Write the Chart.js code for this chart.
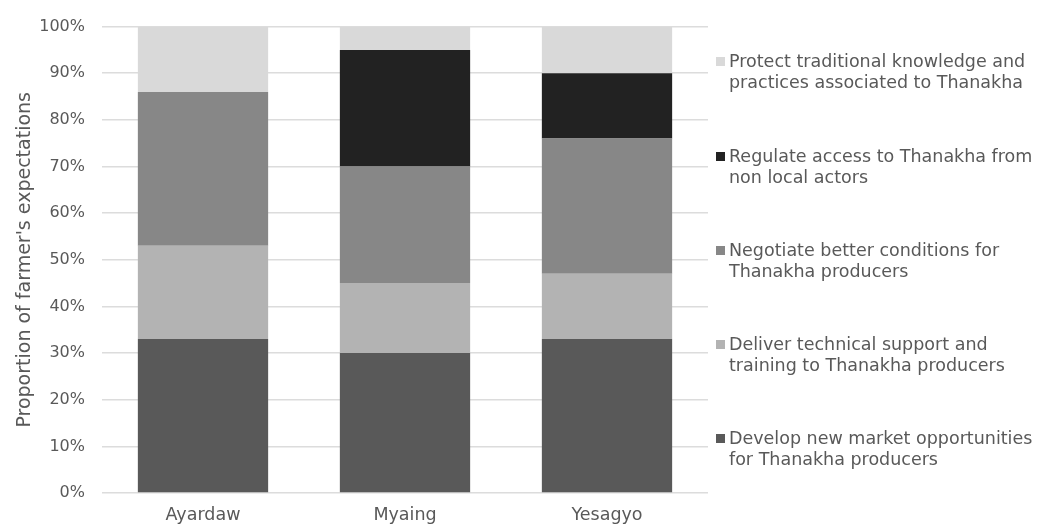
<!DOCTYPE html>
<html>
<head>
<meta charset="utf-8">
<script src="https://cdn.jsdelivr.net/npm/chart.js@4"></script>
<style>
  html, body { margin: 0; padding: 0; background: #fff; }
  #wrap { position: relative; width: 1048px; height: 524px; }
  #legend { position: absolute; left: 716px; top: 0; font-family: "DejaVu Sans", sans-serif; font-size: 17.5px; color: #595959; }
  .item { position: absolute; left: 0; width: 330px; line-height: 21px; padding-left: 13px; white-space: nowrap; }
  .box { position: absolute; left: 0; top: 6px; width: 9px; height: 9px; }
</style>
</head>
<body>
<div id="wrap">
  <canvas id="myChart" width="1048" height="524"></canvas>
  <div id="legend"></div>
</div>
<script>
const sites = ['Ayardaw', 'Myaing', 'Yesagyo'];

// bottom to top in each bar
const develop   = [33, 30, 33];
const deliver   = [20, 15, 14];
const negotiate = [33, 25, 29];
const regulate  = [0, 25, 14];
const protect   = [14, 5, 10];

const seriesNames = [
  ['Develop new market opportunities', 'for Thanakha producers'],
  ['Deliver technical support and', 'training to Thanakha producers'],
  ['Negotiate better conditions for', 'Thanakha producers'],
  ['Regulate access to Thanakha from', 'non local actors'],
  ['Protect traditional knowledge and', 'practices associated to Thanakha']
];
const seriesColors = ['#595959', '#b3b3b3', '#878787', '#222222', '#d9d9d9'];
const seriesData = [develop, deliver, negotiate, regulate, protect];

const ctx = document.getElementById('myChart');

new Chart(ctx, {
  type: 'bar',
  data: {
    labels: sites,
    datasets: seriesData.map((d, i) => ({
      label: seriesNames[i].join(' '),
      data: d,
      backgroundColor: seriesColors[i],
      borderWidth: 0,
      categoryPercentage: 1,
      barPercentage: 0.645
    }))
  },
  options: {
    responsive: false,
    animation: false,
    layout: { padding: { top: 15, right: 340, bottom: 0, left: 0 } },
    scales: {
      x: {
        stacked: true,
        afterFit: (scale) => { scale.height = 31; },
        grid: { display: false },
        border: { display: false },
        ticks: { color: '#595959', font: { family: 'DejaVu Sans', size: 17.5 }, padding: 4 }
      },
      y: {
        stacked: true,
        min: 0,
        max: 100,
        afterFit: (scale) => { scale.width = 102; },
        grid: { color: '#dcdcdc', lineWidth: 1.5, drawTicks: false },
        border: { display: false },
        ticks: {
          stepSize: 10,
          padding: 17,
          color: '#595959',
          font: { family: 'DejaVu Sans', size: 16 },
          callback: v => v + '%'
        },
        title: {
          display: true,
          text: "Proportion of farmer's expectations",
          color: '#595959',
          font: { family: 'DejaVu Sans', size: 19 },
          padding: { top: 14, bottom: 0 }
        }
      }
    },
    plugins: {
      legend: { display: false },
      tooltip: { enabled: false }
    }
  }
});

// legend, top to bottom = reverse of stacking order
const legendTops = [51, 146, 240, 334, 428];
const legend = document.getElementById('legend');
for (let k = 0; k < seriesNames.length; k++) {
  const i = seriesNames.length - 1 - k;
  const item = document.createElement('div');
  item.className = 'item';
  item.style.top = legendTops[k] + 'px';
  const box = document.createElement('span');
  box.className = 'box';
  box.style.background = seriesColors[i];
  item.appendChild(box);
  item.appendChild(document.createTextNode(seriesNames[i][0]));
  item.appendChild(document.createElement('br'));
  item.appendChild(document.createTextNode(seriesNames[i][1]));
  legend.appendChild(item);
}
</script>
</body>
</html>
